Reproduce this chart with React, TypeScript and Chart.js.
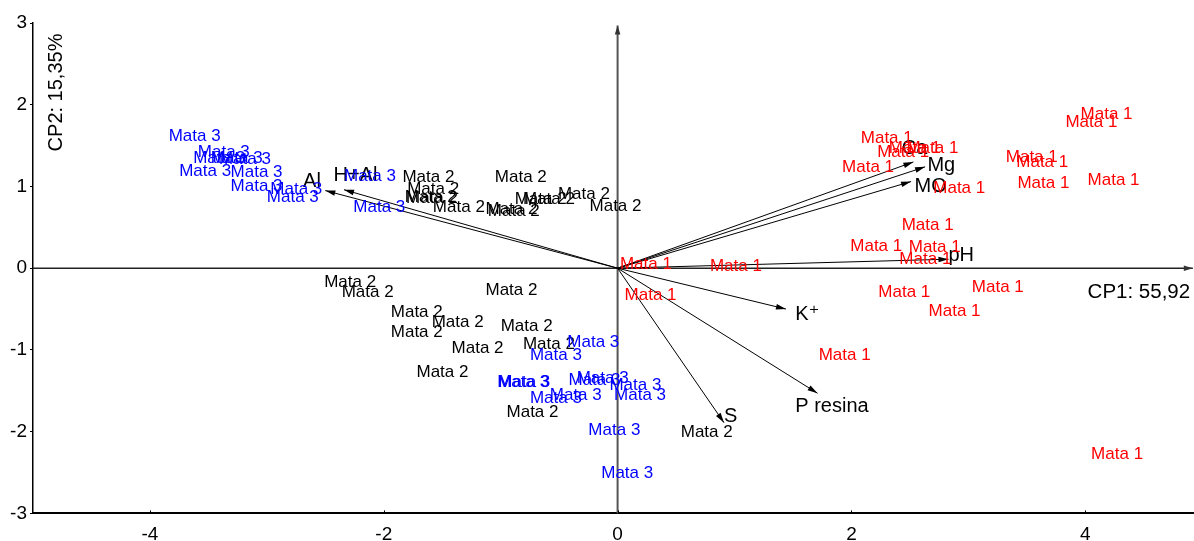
import { useEffect, useRef } from "react";
import { Chart, registerables } from "chart.js";

Chart.register(...registerables);

// ---- Observation scores (CP1, CP2) ----
const mata1X = [2.08, 2.22, 2.32, 2.47, 1.92, 2.70, 3.32, 3.41, 3.42, 3.96, 3.83, 4.02, 2.43, 1.99, 2.49, 2.41, 2.23, 3.03, 2.66, 1.72, 4.05, 0.02, 0.79, 0.06];
const mata1Y = [1.59, 1.42, 1.47, 1.47, 1.24, 0.98, 1.36, 1.29, 1.04, 1.88, 1.78, 1.08, 0.52, 0.27, 0.26, 0.11, -0.30, -0.23, -0.53, -1.06, -2.28, 0.05, 0.02, -0.33];

const mata2X = [-1.84, -1.05, -1.80, -1.82, -1.81, -1.58, -1.13, -1.11, -0.88, -0.81, -0.51, -0.24, -2.51, -2.36, -1.13, -1.94, -1.59, -1.94, -1.00, -1.42, -0.81, -1.72, -0.95, 0.54];
const mata2Y = [1.11, 1.11, 0.96, 0.87, 0.86, 0.74, 0.72, 0.69, 0.84, 0.84, 0.90, 0.76, -0.17, -0.29, -0.27, -0.54, -0.66, -0.79, -0.71, -0.98, -0.93, -1.27, -1.76, -2.01];

const mata3X = [-3.84, -3.59, -3.63, -3.48, -3.41, -3.75, -3.31, -3.31, -2.97, -3.00, -2.34, -2.26, -0.43, -0.75, -1.03, -1.02, -0.42, -0.35, -0.07, -0.75, -0.58, -0.03, -0.25, -0.14];
const mata3Y = [1.61, 1.42, 1.35, 1.35, 1.33, 1.18, 1.17, 1.00, 0.96, 0.87, 1.13, 0.75, -0.91, -1.07, -1.40, -1.40, -1.37, -1.35, -1.43, -1.59, -1.55, -1.55, -1.98, -2.51];

const groupNames = ["Mata 1", "Mata 2", "Mata 3"];
const groupColors = ["#ff0000", "#000000", "#0000ff"];

// ---- Variable loadings (arrow tips) ----
const varNames = ["Al", "H+Al", "Ca", "Mg", "MO", "pH", "K\u207A", "P resina", "S"];
const varX = [-2.50, -2.34, 2.53, 2.63, 2.51, 2.83, 1.44, 1.71, 0.91];
const varY = [0.95, 0.96, 1.30, 1.24, 1.06, 0.11, -0.50, -1.53, -1.89];
// label anchor (left edge, vertical middle) in data units
const varLabelX = [-2.69, -2.43, 2.43, 2.65, 2.54, 2.83, 1.52, 1.52, 0.91];
const varLabelY = [1.06, 1.13, 1.47, 1.26, 1.00, 0.15, -0.57, -1.69, -1.82];

// ---- Axes ----
const xTicks = [-4, -2, 0, 2, 4];
const yTicks = [-3, -2, -1, 0, 1, 2, 3];
const xMin = -5;
const xMax = 4.93;
const yMin = -3;
const yMax = 3;
const xTitle = "CP1: 55,92";
const yTitle = "CP2: 15,35%";
const xTitlePos = [4.02, -0.29];
const yTitlePos = [-4.80, 2.15];

const FONT = "'Liberation Sans', Arial, 'DejaVu Sans', sans-serif";

function drawHead(ctx: CanvasRenderingContext2D, x0: number, y0: number, x1: number, y1: number, color: string, len = 10, half = 2.8) {
  const a = Math.atan2(y1 - y0, x1 - x0);
  const c = Math.cos(a), s = Math.sin(a);
  ctx.save();
  ctx.fillStyle = color;
  ctx.beginPath();
  ctx.moveTo(x1, y1);
  ctx.lineTo(x1 - len * c + half * s, y1 - len * s - half * c);
  ctx.lineTo(x1 - len * c - half * s, y1 - len * s + half * c);
  ctx.closePath();
  ctx.fill();
  ctx.restore();
}

const overlay = {
  id: "overlay",
  afterDatasetsDraw(chart: any) {
    const ctx: CanvasRenderingContext2D = chart.ctx;
    const xs = chart.scales.x;
    const ys = chart.scales.y;
    const area = chart.chartArea;

    // inner tick marks on x axis
    ctx.save();
    ctx.strokeStyle = "#000";
    ctx.lineWidth = 1;
    xTicks.forEach((v) => {
      const px = Math.round(xs.getPixelForValue(v)) + 0.5;
      ctx.beginPath();
      ctx.moveTo(px, area.bottom);
      ctx.lineTo(px, area.bottom - 3);
      ctx.stroke();
    });
    ctx.restore();

    // arrowheads
    chart.data.datasets.forEach((ds: any, i: number) => {
      if (ds.kind === "var" || ds.kind === "axis") {
        const meta = chart.getDatasetMeta(i);
        const p0 = meta.data[0];
        const p1 = meta.data[1];
        drawHead(ctx, p0.x, p0.y, p1.x, p1.y, ds.kind === "axis" ? "#333" : "#000", ds.kind === "axis" ? 9 : 10);
      }
    });

    // variable labels
    ctx.save();
    ctx.fillStyle = "#000";
    ctx.font = `20px ${FONT}`;
    ctx.textAlign = "left";
    ctx.textBaseline = "middle";
    varNames.forEach((n, i) => {
      ctx.fillText(n, xs.getPixelForValue(varLabelX[i]), ys.getPixelForValue(varLabelY[i]));
    });
    ctx.restore();

    // observation labels
    chart.data.datasets.forEach((ds: any, i: number) => {
      if (ds.kind !== "obs") return;
      const meta = chart.getDatasetMeta(i);
      ctx.save();
      ctx.fillStyle = ds.labelColor;
      ctx.font = `17px ${FONT}`;
      ctx.textAlign = "left";
      ctx.textBaseline = "middle";
      meta.data.forEach((pt: any) => {
        ctx.fillText(ds.label, pt.x, pt.y);
      });
      ctx.restore();
    });

    // axis titles
    ctx.save();
    ctx.fillStyle = "#000";
    ctx.font = `20.5px ${FONT}`;
    ctx.textAlign = "left";
    ctx.textBaseline = "middle";
    ctx.fillText(xTitle, xs.getPixelForValue(xTitlePos[0]), ys.getPixelForValue(xTitlePos[1]));
    ctx.translate(xs.getPixelForValue(yTitlePos[0]), ys.getPixelForValue(yTitlePos[1]));
    ctx.rotate(-Math.PI / 2);
    ctx.textAlign = "center";
    ctx.font = `20px ${FONT}`;
    ctx.fillText(yTitle, 0, 0);
    ctx.restore();
  },
};

export default function App() {
  const ref = useRef<HTMLCanvasElement>(null);

  useEffect(() => {
    document.body.style.margin = "0";
    Chart.defaults.font.family = FONT;

    const obsSets = [
      [mata1X, mata1Y],
      [mata2X, mata2Y],
      [mata3X, mata3Y],
    ].map(([xs, ys], g) => ({
      type: "scatter" as const,
      kind: "obs",
      label: groupNames[g],
      labelColor: groupColors[g],
      data: xs.map((x, i) => ({ x, y: ys[i] })),
      pointRadius: 0,
      showLine: false,
      order: 1,
    }));

    const varSets = varNames.map((n, i) => ({
      type: "line" as const,
      kind: "var",
      label: n,
      data: [
        { x: 0, y: 0 },
        { x: varX[i], y: varY[i] },
      ],
      borderColor: "#000",
      borderWidth: 1,
      pointRadius: 0,
      fill: false,
      tension: 0,
      order: 2,
    }));

    const axisSets = [
      {
        type: "line" as const,
        kind: "axis",
        label: "h",
        data: [
          { x: xMin, y: 0 },
          { x: 4.92, y: 0 },
        ],
        borderColor: "#222",
        borderWidth: 1.5,
        pointRadius: 0,
        fill: false,
        order: 3,
      },
      {
        type: "line" as const,
        kind: "axis",
        label: "v",
        data: [
          { x: 0, y: yMin },
          { x: 0, y: 2.97 },
        ],
        borderColor: "#555",
        borderWidth: 2,
        pointRadius: 0,
        fill: false,
        order: 3,
      },
    ];

    const chart = new Chart(ref.current as HTMLCanvasElement, {
      type: "scatter",
      data: { datasets: [...axisSets, ...varSets, ...obsSets] as any },
      options: {
        animation: false,
        responsive: false,
        devicePixelRatio: 1,
        layout: { padding: { top: 23, left: 0, right: 0, bottom: 0 } },
        plugins: {
          legend: { display: false },
          tooltip: { enabled: false },
        },
        scales: {
          x: {
            type: "linear",
            min: xMin,
            max: xMax,
            afterBuildTicks: (s: any) => {
              s.ticks = xTicks.map((v) => ({ value: v }));
            },
            afterFit: (s: any) => {
              s.height = 27.6;
            },
            grid: { display: false },
            border: { display: true, color: "#000", width: 2 },
            ticks: {
              color: "#000",
              font: { size: 19, family: FONT },
              padding: 1.5,
              maxRotation: 0,
              autoSkip: false,
            },
          },
          y: {
            type: "linear",
            min: yMin,
            max: yMax,
            afterBuildTicks: (s: any) => {
              s.ticks = yTicks.map((v) => ({ value: v }));
            },
            afterFit: (s: any) => {
              s.width = 33;
            },
            grid: { display: true, drawOnChartArea: false, drawTicks: true, tickLength: 3, color: "#000" },
            border: { display: true, color: "#000", width: 1.5 },
            ticks: {
              color: "#000",
              font: { size: 19, family: FONT },
              padding: 3,
              autoSkip: false,
            },
          },
        },
      } as any,
      plugins: [overlay],
    });

    return () => chart.destroy();
  }, []);

  return (
    <div style={{ position: "absolute", left: 0, top: 0, width: 1194, height: 541 }}>
      <canvas ref={ref} width={1194} height={541} style={{ display: "block" }} />
    </div>
  );
}
